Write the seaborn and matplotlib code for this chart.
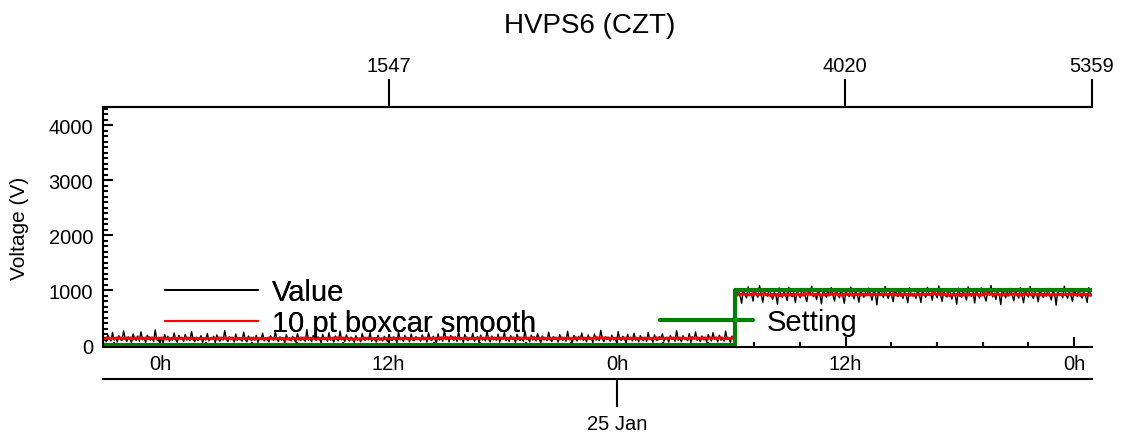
import numpy as np
import pandas as pd
import matplotlib
matplotlib.use('Agg')
import matplotlib.pyplot as plt
from matplotlib.lines import Line2D
from matplotlib.ticker import MultipleLocator, FuncFormatter, NullLocator
import seaborn as sns

# ----------------------------------------------------------------------
# data
# ----------------------------------------------------------------------
TITLE = 'HVPS6 (CZT)'
START_H = -3.0        # hours from 24 Jan 0h, left edge
END_H = 48.95         # right edge
STEP_H = 30.2         # time the setting changes
N_SAMPLES = 5359      # last sample index (top axis)
SETTING_LEVELS = [0, 1000]
TOP_TICKS = [1547, 4020, 5359]
DATE_TICK_H = [24]
DATE_LABELS = ['25 Jan']

# Value before the setting change (V), estimated noisy band
VALUE_LOW = [
    95, 140, 60, 185, 110, 75, 230, 90, 130, 55, 170, 100, 80, 260, 120, 65, 150, 105, 45, 200,
    115, 85, 165, 70, 240, 95, 125, 50, 180, 110, 90, 145, 60, 275, 100, 75, 135, 115, 40, 190,
    105, 160, 70, 125, 85, 220, 95, 55, 175, 110, 130, 65, 195, 90, 120, 80, 250, 100, 60, 145,
    85, 115, 170, 50, 135, 95, 210, 75, 120, 100, 160, 45, 185, 105, 70, 140, 90, 265, 110, 65,
    150, 95, 120, 55, 200, 85, 130, 105, 70, 235, 100, 60, 165, 115, 80, 145, 90, 180, 50, 125,
    100, 215, 75, 135, 95, 60, 170, 110, 85, 245, 105, 65, 150, 90, 120, 40, 190, 100, 130, 75,
    160, 95, 55, 205, 115, 80, 140, 100, 70, 280, 90, 125, 60, 175, 105, 85, 150, 110, 45, 195,
    100, 135, 70, 225, 90, 115, 55, 165, 105, 80, 255, 95, 130, 65, 185, 110, 75, 145, 100, 50,
    170, 90, 120, 60, 210, 105, 85, 140, 95, 230, 70, 115, 100, 55, 180, 90, 130, 75, 160, 110,
    65, 195, 100, 85, 150, 120, 45, 240, 95, 110, 70, 175, 105, 135, 60, 200, 90, 80, 155, 100,
    120, 70, 185, 95, 140, 55, 225, 105, 80, 160, 115, 40, 205, 90, 130, 70, 270, 100, 145, 60,
    175, 110, 85, 150, 65, 240, 95, 125, 50, 190, 105, 80, 135, 100, 215, 70, 115, 155, 45, 180,
    90, 130, 75, 255, 110, 60, 165, 95, 120, 85, 200, 55, 140, 105, 230, 80, 125, 65, 170, 100,
    145, 50, 195, 115, 85, 135, 70, 260, 100, 120, 60, 180, 90, 150, 75, 210, 110, 45, 165, 95,
    125, 80, 235, 105, 65, 155, 100, 140, 55, 190, 115, 85, 130, 70, 250, 95, 120, 50, 175, 110,
    75, 160, 100, 220, 85, 135, 60, 185, 105, 125, 45, 200, 90, 145, 80, 270, 115, 65, 150, 100,
    135, 70, 180, 95, 115, 55, 245, 105, 85, 160, 120, 40, 195, 100, 140, 75, 215, 90, 130, 60,
    170, 110, 80, 145, 65, 230, 100, 125, 50, 185, 95, 85, 155, 115, 205, 70, 120, 140, 55, 175,
    105, 135, 70, 265, 90, 115, 60, 170, 100, 130, 80, 210, 45, 150, 110, 240, 85, 125, 65, 165,
    95, 145, 55, 190, 120, 75, 225, 105, 140, 60, 180, 90, 115, 70, 255, 100, 130, 50, 160, 110,
]

# Value after the setting change (V)
VALUE_HIGH = [
    950, 880, 1020, 910, 760, 990, 930, 860, 1060, 900, 940, 800, 1000, 920, 870, 1080, 930, 780, 970, 905,
    890, 1010, 940, 830, 960, 915, 740, 1040, 925, 870, 985, 900, 810, 1050, 935, 880, 955, 770, 1000, 920,
    860, 1030, 945, 895, 790, 975, 910, 1070, 880, 940, 825, 995, 920, 750, 1015, 930, 870, 965, 900, 1045,
    915, 800, 980, 935, 860, 1025, 905, 760, 990, 925, 880, 1055, 940, 840, 970, 910, 780, 1005, 930, 870,
    960, 895, 1035, 920, 815, 985, 940, 730, 1010, 900, 950, 865, 1065, 925, 845, 975, 910, 790, 995, 935,
    880, 1020, 915, 850, 965, 905, 770, 1040, 930, 890, 940, 850, 1010, 925, 775, 995, 915, 870, 1050, 905,
    935, 815, 1025, 930, 860, 1075, 920, 795, 980, 900, 875, 1005, 945, 835, 970, 910, 745, 1035, 930, 865,
    990, 895, 820, 1060, 925, 885, 960, 765, 1015, 915, 855, 1040, 935, 890, 800, 980, 905, 1085, 875, 945,
    830, 1000, 925, 735, 1020, 935, 860, 970, 895, 1030, 920, 805, 985, 930, 855, 1045, 910, 770, 995, 920,
    875, 1065, 935, 845, 965, 915, 785, 1010, 925, 865, 955, 890, 1030, 915, 820, 990, 935, 725, 1005, 905,
    945, 860, 1070, 920, 850, 980, 900, 795, 1000, 930, 885, 1025, 910, 855, 960, 900, 775, 1045, 925, 895,
]

# ----------------------------------------------------------------------


def h2s(h):
    return (np.asarray(h) - START_H) / (END_H - START_H) * N_SAMPLES


def s2h(s):
    return np.asarray(s) / N_SAMPLES * (END_H - START_H) + START_H


def main():
    t_low = np.linspace(START_H, STEP_H, len(VALUE_LOW), endpoint=False)
    t_high = np.linspace(STEP_H, END_H, len(VALUE_HIGH))
    df = pd.DataFrame({
        'hours': np.concatenate([t_low, t_high]),
        'value': VALUE_LOW + VALUE_HIGH,
        'segment': [0] * len(VALUE_LOW) + [1] * len(VALUE_HIGH),
    })
    # 10 pt boxcar smooth, kept inside each setting segment
    df['smooth'] = df.groupby('segment')['value'].transform(
        lambda s: s.rolling(10, center=True, min_periods=1).mean())

    df_set = pd.DataFrame({
        'hours': [START_H, STEP_H, END_H],
        'level': [SETTING_LEVELS[0], SETTING_LEVELS[1], SETTING_LEVELS[1]],
    })

    sns.set_style('ticks')
    plt.rcParams['font.family'] = ['Liberation Sans', 'DejaVu Sans']
    for key in ['text.color', 'axes.labelcolor', 'xtick.color',
                'ytick.color', 'axes.edgecolor']:
        plt.rcParams[key] = 'black'

    fig = plt.figure(figsize=(11.25, 4.39), dpi=100)
    ax = fig.add_axes([0.0916, 0.2073, 0.8791, 0.5467])

    sns.lineplot(data=df, x='hours', y='value', color='black', lw=1.0,
                 estimator=None, sort=False, ax=ax, legend=False)
    sns.lineplot(data=df, x='hours', y='smooth', units='segment', color='red',
                 lw=2.2, estimator=None, sort=False, ax=ax, legend=False)
    sns.lineplot(data=df_set, x='hours', y='level', color='#008000', lw=3.0,
                 estimator=None, sort=False, drawstyle='steps-post', ax=ax,
                 legend=False)

    ax.set_xlim(START_H, END_H)
    ax.set_ylim(-35, 4330)
    ax.set_xlabel('')
    ax.set_ylabel('Voltage (V)', fontsize=15, labelpad=14)

    ax.xaxis.set_major_locator(MultipleLocator(12))
    ax.xaxis.set_minor_locator(MultipleLocator(2.4))
    ax.xaxis.set_major_formatter(FuncFormatter(lambda v, p: f'{int(round(v)) % 24}h'))
    ax.yaxis.set_major_locator(MultipleLocator(1000))
    ax.yaxis.set_minor_locator(MultipleLocator(100))

    ax.tick_params(axis='both', which='both', direction='in', top=False,
                   right=False, width=1.5, labelsize=14.5, color='black')
    ax.tick_params(axis='both', which='major', length=7)
    ax.tick_params(axis='both', which='minor', length=3.5)
    ax.tick_params(axis='x', which='major', pad=5)
    ax.tick_params(axis='y', which='major', pad=7)

    for side in ['left', 'top', 'bottom']:
        ax.spines[side].set_linewidth(1.5)
        ax.spines[side].set_color('black')
    ax.spines['right'].set_visible(False)

    # sample index axis on top
    top = ax.secondary_xaxis('top', functions=(h2s, s2h))
    top.set_xticks(TOP_TICKS)
    top.xaxis.set_minor_locator(NullLocator())
    top.tick_params(axis='x', direction='out', length=20, width=1.5,
                    labelsize=14.5, pad=3, color='black')
    top.spines['top'].set_linewidth(1.5)

    # date axis underneath
    date_ax = ax.secondary_xaxis(-0.133)
    date_ax.set_xticks(DATE_TICK_H, labels=DATE_LABELS)
    date_ax.xaxis.set_minor_locator(NullLocator())
    date_ax.tick_params(axis='x', direction='out', length=20, width=1.5,
                        labelsize=14.5, pad=5, color='black')
    date_ax.spines['bottom'].set_linewidth(1.5)

    # legends
    leg1 = fig.legend(
        handles=[Line2D([], [], color='black', lw=1.3),
                 Line2D([], [], color='red', lw=1.5)],
        labels=['Value', '10 pt boxcar smooth'],
        loc='upper left', bbox_to_anchor=(165 / 1125, 1 - 279 / 439),
        frameon=False, fontsize=21, handlelength=3.19, handletextpad=0.48,
        borderpad=0, borderaxespad=0, labelspacing=0.1)
    fig.legend(
        handles=[Line2D([], [], color='#008000', lw=3.0)],
        labels=['Setting'],
        loc='upper left', bbox_to_anchor=(660 / 1125, 1 - 309 / 439),
        frameon=False, fontsize=21, handlelength=3.19, handletextpad=0.48,
        borderpad=0, borderaxespad=0)
    fig.add_artist(leg1)

    fig.text(590 / 1125, 1 - 26 / 439, TITLE, ha='center', va='center',
             fontsize=20)

    fig.savefig('out.png', dpi=100)


if __name__ == '__main__':
    main()
